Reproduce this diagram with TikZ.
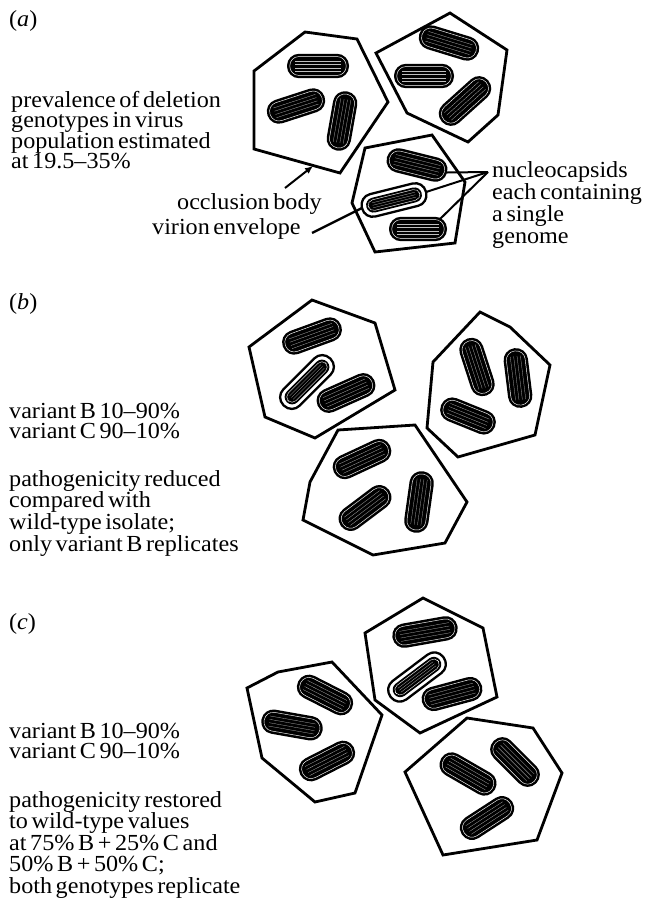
\documentclass[tikz,border=0pt]{standalone}
\usepackage{fontspec}
\setmainfont[FakeStretch=1.05,WordSpace=0.6]{Liberation Serif}
\usetikzlibrary{arrows.meta}
\begin{document}
\begin{tikzpicture}[x=1pt,y=-1pt,
  lbl/.style={anchor=base west,inner sep=0pt,font=\fontsize{23}{21}\selectfont},
  body/.style={line width=2.8pt,line join=miter},
  leader/.style={line width=2pt},
  % a nucleocapsid: black capsule, thin white rim, pale striations
  pics/rod/.style={code={
    \fill[rounded corners=11.9pt] (-#1,-12.2) rectangle (#1,12.2);
    \draw[white,line width=0.45pt,rounded corners=9pt] (-#1+2.8,-9.4) rectangle (#1-2.8,9.4);
    \foreach \s in {-5.1,-1.7,1.7,5.1}
      \draw[black!25,line width=0.25pt] (-#1+8,\s) -- (#1-8,\s);
    \coordinate (-e) at (#1,0);
    \coordinate (-w) at (-#1,0);
    \coordinate (-ne) at (#1-8,-9);
  }},
  pics/rod/.default=31,
  % a virion: envelope round a single nucleocapsid
  pics/envrod/.style={code={
    \draw[line width=2.3pt,fill=white,rounded corners=11pt] (-#1,-11.5) rectangle (#1,11.5);
    \fill[rounded corners=7.4pt] (-#1+4.5,-7.5) rectangle (#1-4.5,7.5);
    \draw[white,line width=0.4pt,rounded corners=5.5pt] (-#1+6.5,-5.4) rectangle (#1-6.5,5.4);
    \foreach \s in {-2.5,0,2.5}
      \draw[black!25,line width=0.25pt] (-#1+11,\s) -- (#1-11,\s);
    \coordinate (-e) at (#1,0);
    \coordinate (-w) at (-#1,0);
  }},
  pics/envrod/.default=33,
]
\useasboundingbox (0,0) rectangle (646,908);

% ---------------- (a) ----------------
\node[lbl] (la) at (9,26) {(\textit{a})};
\foreach \t [count=\i from 0] in {prevalence of deletion,genotypes in virus,population estimated,at 19.5–35\%}
  \node[lbl] (pa\i) at (11,{107+20.5*\i}) {\t};

\draw[body] (305,32) -- (357,39) -- (388,102) -- (340,173) -- (254,149) -- (254,71) -- cycle;
\draw[body] (376,53) -- (450,13) -- (507,50) -- (498,115) -- (468,142) -- (407,113) -- cycle;
\draw[body] (365,148) -- (432,135) -- (465,182) -- (455,243) -- (375,252) -- (352,203) -- cycle;

\pic[rotate=0]   (a1) at (318,66)  {rod};
\pic[rotate=18]  (a2) at (296,106) {rod=30};
\pic[rotate=80]  (a3) at (342,121) {rod=30};
\pic[rotate=-17] (a4) at (449,43)  {rod};
\pic[rotate=0]   (a5) at (424,76)  {rod=30};
\pic[rotate=42]  (a6) at (465,101) {rod};
\pic[rotate=-14] (a7) at (417,165) {rod};
\pic[rotate=14]  (a8) at (394,200) {envrod};
\pic[rotate=0]   (a9) at (418,229) {rod=29};

\node[lbl] (occl) at (177,209) {occlusion body};
\node[lbl] (virenv) at (152,234) {virion envelope};
\foreach \t [count=\i from 0] in {nucleocapsids,each containing,a single,genome}
  \node[lbl] (nc\i) at (492,{177+22*\i}) {\t};

\coordinate (obtail) at (285,188);
\coordinate (obtip) at (313,166);
\coordinate (vetail) at (312,233);
\coordinate (ncapex) at (488,172);
\draw[leader,-{Latex[length=8pt,width=7pt]}] (obtail) -- (obtip);
\draw[leader,line width=2.3pt] (vetail) -- (a8-w);
\draw[leader] (ncapex) -- (a7-e);
\draw[leader] (ncapex) -- (a8-e);
\draw[leader] (ncapex) -- (a9-ne);

% ---------------- (b) ----------------
\node[lbl] (lb) at (9,309) {(\textit{b})};
\foreach \t [count=\i from 0] in {variant B 10–90\%,variant C 90–10\%}
  \node[lbl] (vb\i) at (9,{418+20.5*\i}) {\t};
\foreach \t [count=\i from 0] in {pathogenicity reduced,compared with,wild-type isolate;,only variant B replicates}
  \node[lbl] (pb\i) at (9,{486+21.7*\i}) {\t};

\draw[body] (312,300) -- (375,323) -- (395,390) -- (315,438) -- (265,417) -- (249,347) -- cycle;
\draw[body] (480,312) -- (510,327) -- (550,365) -- (535,435) -- (458,457) -- (427,428) -- (433,362) -- cycle;
\draw[body] (338,430) -- (415,425) -- (467,502) -- (445,543) -- (373,555) -- (303,520) -- (310,482) -- cycle;

\pic[rotate=20]  (b1) at (312,336) {rod};
\pic[rotate=45]  (b2) at (307,382) {envrod};
\pic[rotate=24]  (b3) at (346,393) {rod};
\pic[rotate=108] (b4) at (477,367) {rod=30};
\pic[rotate=97]  (b5) at (518,378) {rod=30};
\pic[rotate=-22] (b6) at (468,416) {rod=29};
\pic[rotate=25]  (b7) at (362,459) {rod};
\pic[rotate=37]  (b8) at (365,508) {rod=30};
\pic[rotate=82]  (b9) at (419,502) {rod=31};

% ---------------- (c) ----------------
\node[lbl] (lc) at (9,629) {(\textit{c})};
\foreach \t [count=\i from 0] in {variant B 10–90\%,variant C 90–10\%}
  \node[lbl] (vc\i) at (9,{738+20.5*\i}) {\t};
\foreach \t [count=\i from 0] in {pathogenicity restored,to wild-type values,at 75\% B + 25\% C and,50\% B + 50\% C;,both genotypes replicate}
  \node[lbl] (pc\i) at (9,{807+21.5*\i}) {\t};

\draw[body] (278,672) -- (332,662) -- (382,715) -- (355,793) -- (315,802) -- (262,758) -- (247,688) -- cycle;
\draw[body] (423,598) -- (483,628) -- (497,697) -- (420,733) -- (375,700) -- (365,633) -- cycle;
\draw[body] (467,718) -- (533,728) -- (562,773) -- (537,840) -- (443,855) -- (405,772) -- cycle;

\pic[rotate=-27] (c1) at (325,695) {rod=30};
\pic[rotate=-10] (c2) at (292,725) {rod};
\pic[rotate=27]  (c3) at (327,761) {rod=30};
\pic[rotate=10]  (c4) at (425,632) {rod=33};
\pic[rotate=37]  (c5) at (417,677) {envrod};
\pic[rotate=15]  (c6) at (452,694) {rod};
\pic[rotate=-30] (c7) at (468,774) {rod};
\pic[rotate=-45] (c8) at (515,762) {rod=30};
\pic[rotate=33]  (c9) at (487,818) {rod=30};
\end{tikzpicture}
\end{document}
